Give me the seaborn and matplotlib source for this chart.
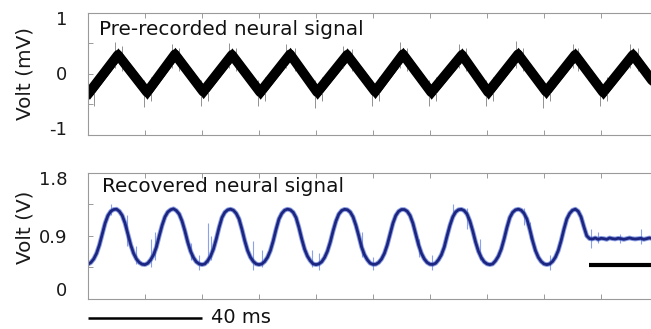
import numpy as np
import pandas as pd
import matplotlib
matplotlib.use("Agg")
import matplotlib.pyplot as plt
import matplotlib.transforms as mtransforms
import seaborn as sns

# ====== DATA ======
# top panel: pre-recorded signal, vertices of the (triangular) wave, mV
pre_t = [0, 0.5, 10.5, 20.7, 30.5, 40.4, 50.5, 60.4, 70.9, 80.4, 90.9,
         100.7, 110.5, 120.4, 131.2, 140.4, 150.9, 160.7, 170.9, 180.7,
         191.2, 201.0]
pre_v = [-0.28, -0.30, 0.31, -0.30, 0.32, -0.29, 0.31, -0.30, 0.32, -0.30, 0.31,
         -0.29, 0.32, -0.30, 0.31, -0.30, 0.32, -0.29, 0.31, -0.30,
         0.31, -0.30]
# noise spikes on the top trace: time (ms), low, high (mV)
pre_spk_t = [2, 9.5, 12, 19.5, 22, 29.5, 32, 39.5, 42, 49.5, 52, 59.5, 62,
             69.5, 72.5, 79.5, 82, 89.5, 92.5, 99.5, 102, 109.5, 112, 119.5,
             122, 130, 132.5, 139.5, 142, 150, 152.5, 159.5, 162, 170, 172,
             179.5, 182, 190, 193]
pre_spk_lo = [-0.52, 0.1, 0.05, -0.54, -0.45, 0.1, 0.05, -0.52, -0.45, 0.1, 0.05,
              -0.52, -0.45, 0.1, 0.05, -0.56, -0.45, 0.1, 0.05, -0.52, -0.45, 0.1,
              0.05, -0.52, -0.45, 0.1, 0.05, -0.52, -0.45, 0.1, 0.05, -0.56, -0.45,
              0.1, 0.05, -0.52, -0.45, 0.1, 0.05]
pre_spk_hi = [-0.1, 0.52, 0.45, -0.1, -0.05, 0.48, 0.42, -0.1, -0.05, 0.5, 0.42,
              -0.1, -0.05, 0.48, 0.42, -0.1, -0.05, 0.45, 0.4, -0.1, -0.05, 0.52,
              0.42, -0.1, -0.05, 0.48, 0.42, -0.1, -0.05, 0.54, 0.42, -0.1, -0.05,
              0.48, 0.42, -0.1, -0.05, 0.48, 0.42]

# bottom panel: recovered signal, sampled every 1 ms (V)
rec_t = list(range(0, 201))
rec_v = [0.495, 0.52, 0.57, 0.65, 0.77, 0.925, 1.08, 1.19, 1.25, 1.275,
         1.28, 1.25, 1.19, 1.08, 0.925, 0.77, 0.65, 0.57, 0.52, 0.495,
         0.49, 0.51, 0.56, 0.63, 0.74, 0.90, 1.05, 1.17, 1.24, 1.272,
         1.285, 1.26, 1.21, 1.11, 0.97, 0.81, 0.68, 0.59, 0.53, 0.50,
         0.49, 0.50, 0.545, 0.61, 0.71, 0.855, 1.02, 1.16, 1.235, 1.27,
         1.28, 1.265, 1.22, 1.14, 0.995, 0.83, 0.69, 0.595, 0.535, 0.50,
         0.49, 0.50, 0.535, 0.595, 0.69, 0.83, 0.995, 1.14, 1.22, 1.265,
         1.28, 1.27, 1.235, 1.16, 1.02, 0.855, 0.71, 0.61, 0.545, 0.50,
         0.49, 0.50, 0.53, 0.59, 0.68, 0.81, 0.97, 1.11, 1.21, 1.26,
         1.278, 1.272, 1.24, 1.17, 1.05, 0.90, 0.74, 0.63, 0.56, 0.51,
         0.493, 0.495, 0.52, 0.57, 0.65, 0.77, 0.925, 1.08, 1.19, 1.25,
         1.275, 1.275, 1.25, 1.19, 1.08, 0.925, 0.77, 0.65, 0.57, 0.52,
         0.495, 0.493, 0.51, 0.56, 0.63, 0.74, 0.90, 1.05, 1.17, 1.24,
         1.272, 1.278, 1.26, 1.21, 1.11, 0.97, 0.81, 0.68, 0.59, 0.53, 0.50,
         0.49, 0.50, 0.545, 0.61, 0.71, 0.855, 1.02, 1.16, 1.235, 1.27,
         1.28, 1.265, 1.22, 1.14, 0.995, 0.83, 0.69, 0.595, 0.535, 0.50,
         0.49, 0.50, 0.535, 0.595, 0.69, 0.83, 0.995, 1.14, 1.22, 1.265,
         1.28, 1.25, 1.17, 1.03, 0.90,
         0.86, 0.855, 0.87, 0.85, 0.865, 0.86, 0.85, 0.87, 0.86, 0.855,
         0.865, 0.86, 0.85, 0.86, 0.87, 0.86, 0.855, 0.86, 0.865, 0.85,
         0.86, 0.87, 0.86, 0.855, 0.86]
# noise spikes on the recovered trace
rec_spk_t = [8, 13.6, 17, 22, 23.5, 36, 39, 42, 43, 58, 61, 78.6, 81, 96, 100,
             116, 120.7, 128, 133, 137.5, 153, 155, 162, 176.5, 179, 186.7, 194]
rec_spk_lo = [1.2, 0.75, 0.5, 0.45, 0.55, 0.55, 0.42, 0.52, 0.55, 0.42, 0.45,
              0.45, 0.42, 0.6, 0.42, 0.6, 0.42, 1.15, 1.0, 0.55, 1.05, 0.85,
              0.42, 0.72, 0.8, 0.8, 0.78]
rec_spk_hi = [1.36, 1.2, 0.75, 0.85, 0.95, 0.8, 0.62, 1.08, 0.9, 0.83, 0.7,
              0.7, 0.65, 0.95, 0.6, 0.85, 0.62, 1.35, 1.3, 0.85, 1.3, 1.1,
              0.62, 1.0, 0.95, 0.92, 1.0]

scale_ms = 40          # scale bar length
off_bar = [175.8, 205]  # black bar under the flat part
off_bar_y = 0.49
# ==========================================

sns.set_style("ticks")
plt.rcParams['font.family'] = ['DejaVu Sans']

fig = plt.figure(figsize=(6.51, 3.29), dpi=100)
W, H = 651, 329
left = 88 / W
xmax = 200
ax_w = xmax * 2.85 / W
ax1 = fig.add_axes([left, (H - 135) / H, ax_w, 122.3 / H])
ax2 = fig.add_axes([left, (H - 299) / H, ax_w, 126.3 / H])

spine_col = '#9a9a9a'
for ax in (ax1, ax2):
    for s in ax.spines.values():
        s.set_color(spine_col)
        s.set_linewidth(0.8)
    ax.spines['right'].set_visible(False)
    ax.set_xlim(0, xmax)
    ax.set_xticks(np.arange(0, 201, 20))
    ax.tick_params(axis='both', direction='in', length=3.5, width=0.7,
                   color=spine_col, top=True, right=False, labelsize=13,
                   labelcolor='#1a1a1a', pad=15)
    ax.tick_params(axis='x', labelbottom=False)

# ---- top panel
pre = pd.DataFrame({'t': pre_t, 'v': pre_v})
ax1.vlines(pre_spk_t, pre_spk_lo, pre_spk_hi, color='#808080', lw=0.6)
ax1.fill_between(pre['t'], pre['v'] - 0.115, pre['v'] + 0.115, color='black', lw=0)
sns.lineplot(data=pre, x='t', y='v', ax=ax1, color='black', lw=7,
             estimator=None, sort=False, solid_joinstyle='round')
ax1.set_ylim(-1, 1)
ax1.set_yticks([-1, -0.5, 0, 0.5, 1])
ax1.set_yticklabels(['-1', '', '0', '', '1'])
ax1.set_xlabel('')
ax1.set_ylabel('Volt (mV)', fontsize=14.4, color='#1a1a1a')
ax1.yaxis.set_label_coords(-0.094, 0.5)
ax1.text(0.019, 0.818, 'Pre-recorded neural signal', transform=ax1.transAxes,
         fontsize=14.4, va='baseline', ha='left', color='#111111')

# ---- bottom panel
rec = pd.DataFrame({'t': rec_t, 'v': rec_v})
ax2.vlines(rec_spk_t, rec_spk_lo, rec_spk_hi, color='#8da2e6', lw=0.8)
sns.lineplot(data=rec, x='t', y='v', ax=ax2, color='#3f5fd0', lw=3.4, alpha=0.6,
             estimator=None, sort=False)
sns.lineplot(data=rec, x='t', y='v', ax=ax2, color='#1c2680', lw=2.0,
             estimator=None, sort=False)
ax2.set_ylim(0, 1.8)
ax2.set_yticks([0, 0.45, 0.9, 1.35, 1.8])
ax2.set_yticklabels(['0', '', '0.9', '', '1.8'])
ax2.set_xlabel('')
ax2.set_ylabel('Volt (V)', fontsize=14.4, color='#1a1a1a')
ax2.yaxis.set_label_coords(-0.093, 0.566)
ax2.text(0.024, 0.85, 'Recovered neural signal', transform=ax2.transAxes,
         fontsize=14.4, va='baseline', ha='left', color='#111111')

# bar under the flat tail
ax2.plot(off_bar, [off_bar_y, off_bar_y], color='black', lw=3, clip_on=False,
         solid_capstyle='butt')
# scale bar
ax2.plot([0, scale_ms], [-0.268, -0.268], color='black', lw=1.8, clip_on=False,
         solid_capstyle='butt')
ax2.text(scale_ms + 3.2, -0.268, f'{scale_ms} ms', fontsize=14, va='center',
         ha='left', color='#111111')

# nudge end tick labels inward, as in the reference
def nudge(ax, shifts):
    for lab, dy in zip(ax.get_yticklabels(), shifts):
        lab.set_transform(lab.get_transform() +
                          mtransforms.ScaledTranslation(0, dy / 72, fig.dpi_scale_trans))

nudge(ax1, [7 * 0.72, 0, 1 * 0.72, 0, -5 * 0.72])
nudge(ax2, [10.5 * 0.72, 0, 0, 0, -5.5 * 0.72])

fig.savefig('out.png', dpi=100)
